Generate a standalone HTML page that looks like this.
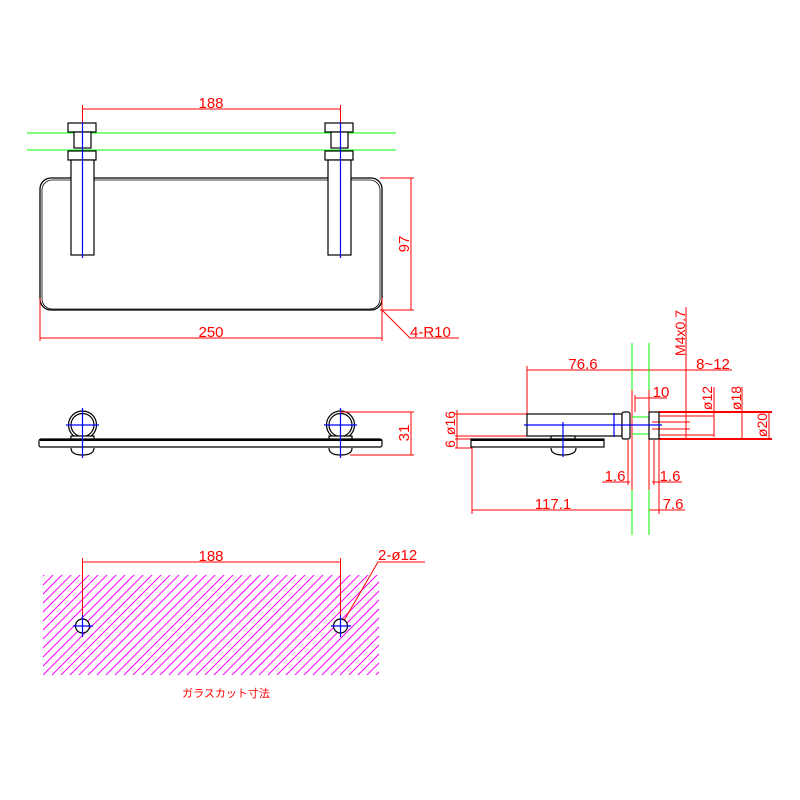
<!DOCTYPE html>
<html><head><meta charset="utf-8"><style>
html,body{margin:0;padding:0;background:#fff}
svg{display:block}
text{font-family:"Liberation Sans","Noto Sans CJK JP",sans-serif;fill:#f00}
</style></head><body>
<svg width="800" height="800" viewBox="0 0 800 800" xmlns="http://www.w3.org/2000/svg">
<defs>
<clipPath id="hc"><rect x="43" y="575" width="336" height="100"/></clipPath>
</defs>
<rect width="800" height="800" fill="#fff"/>

<!-- ===== TOP VIEW ===== -->
<g fill="none" stroke="#000" stroke-width="1.3">
<rect x="40" y="178" width="342" height="132" rx="11"/>
<rect x="42" y="180" width="338" height="129" rx="10" stroke-width="0.8"/>
</g>
<g stroke="#0f0" stroke-width="1">
<line x1="27" y1="133" x2="396" y2="133"/>
<line x1="27" y1="150" x2="396" y2="150"/>
</g>
<g fill="#fff" stroke="#000" stroke-width="1.2">
<rect x="68" y="123" width="28" height="9"/>
<rect x="74" y="132" width="17" height="16"/>
<rect x="68" y="151" width="28" height="9"/>
<rect x="71" y="160" width="23" height="95"/>
<rect x="325" y="123" width="28" height="9"/>
<rect x="331" y="132" width="17" height="16"/>
<rect x="325" y="151" width="28" height="9"/>
<rect x="328" y="160" width="23" height="95"/>
</g>
<g stroke="#00f" stroke-width="1.2">
<line x1="82.5" y1="122" x2="82.5" y2="258"/>
<line x1="340.5" y1="122" x2="340.5" y2="258"/>
</g>
<g stroke="#f00" stroke-width="1" fill="none">
<line x1="82.5" y1="105" x2="82.5" y2="122"/>
<line x1="340.5" y1="105" x2="340.5" y2="122"/>
<line x1="82.5" y1="109" x2="340.5" y2="109"/>
<line x1="380" y1="178" x2="414" y2="178"/>
<line x1="380" y1="310" x2="414" y2="310"/>
<line x1="411" y1="178" x2="411" y2="310"/>
<line x1="40" y1="298" x2="40" y2="341"/>
<line x1="382" y1="298" x2="382" y2="341"/>
<line x1="40" y1="338" x2="382" y2="338"/>
<polyline points="382,310 410,338 459,338"/>
</g>
<text x="211" y="108" font-size="15" text-anchor="middle">188</text>
<text x="211" y="337" font-size="15" text-anchor="middle">250</text>
<text x="410" y="337" font-size="15">4-R10</text>
<text transform="translate(409,244) rotate(-90)" font-size="15" text-anchor="middle">97</text>

<!-- ===== FRONT VIEW ===== -->
<g fill="none" stroke="#000" stroke-width="1.2">
<circle cx="82.5" cy="425" r="14"/><circle cx="82.5" cy="425" r="11.5"/>
<circle cx="340.5" cy="425" r="14"/><circle cx="340.5" cy="425" r="11.5"/>
<rect x="71" y="436" width="23" height="4" fill="#fff"/>
<rect x="329" y="436" width="23" height="4" fill="#fff"/>
<path d="M71,448 Q71,455 82.5,455 Q94,455 94,448"/>
<path d="M329,448 Q329,455 340.5,455 Q352,455 352,448"/>
<rect x="39" y="439" width="343" height="8" rx="2" fill="#fff"/>
<line x1="40" y1="440" x2="382" y2="440" stroke-width="2"/>
</g>
<g stroke="#00f" stroke-width="1.2">
<line x1="82.5" y1="408" x2="82.5" y2="458"/><line x1="66" y1="425" x2="99" y2="425"/>
<line x1="340.5" y1="408" x2="340.5" y2="458"/><line x1="324" y1="425" x2="357" y2="425"/>
</g>
<g stroke="#f00" stroke-width="1">
<line x1="340" y1="412" x2="414" y2="412"/>
<line x1="350" y1="455" x2="414" y2="455"/>
<line x1="411" y1="412" x2="411" y2="455"/>
</g>
<text transform="translate(409,433) rotate(-90)" font-size="15" text-anchor="middle">31</text>

<!-- ===== SIDE VIEW ===== -->
<g stroke="#f00" stroke-width="1" fill="none">
<line x1="527" y1="366" x2="527" y2="414"/>
<line x1="527" y1="370" x2="732" y2="370"/>
<line x1="686" y1="307" x2="686" y2="438"/>
<line x1="455" y1="414" x2="527" y2="414"/>
<line x1="455" y1="436" x2="527" y2="436"/>
<line x1="455" y1="439" x2="472" y2="439"/>
<line x1="455" y1="448" x2="472" y2="448"/>
<line x1="457" y1="410" x2="457" y2="448"/>
<line x1="472" y1="447" x2="472" y2="514"/>
<line x1="472" y1="510" x2="632" y2="510"/>
<line x1="632" y1="343" x2="632" y2="535" stroke="#f00"/>
<line x1="649" y1="343" x2="649" y2="535"/>
<line x1="659" y1="440" x2="659" y2="514"/>
<line x1="649" y1="510" x2="685" y2="510"/>
<line x1="628" y1="440" x2="628" y2="485"/>
<line x1="654" y1="440" x2="654" y2="485"/>
<line x1="602" y1="482" x2="630" y2="482"/>
<line x1="652" y1="482" x2="682" y2="482"/>
<line x1="635" y1="398" x2="667" y2="398"/>
<line x1="635" y1="395" x2="635" y2="412"/>
<line x1="659" y1="412" x2="772" y2="412" stroke-width="2"/>
<line x1="659" y1="439" x2="772" y2="439" stroke-width="2"/>
<line x1="659" y1="416" x2="714" y2="416"/>
<line x1="659" y1="435" x2="714" y2="435"/>
<line x1="652" y1="422" x2="690" y2="422"/>
<line x1="652" y1="429" x2="690" y2="429"/>
<line x1="714" y1="387" x2="714" y2="437"/>
<line x1="742" y1="387" x2="742" y2="439"/>
<line x1="769" y1="412" x2="769" y2="439"/>
</g>
<g stroke="#0f0" stroke-width="1">
<line x1="632" y1="343" x2="632" y2="390"/><line x1="649" y1="343" x2="649" y2="390"/>
<line x1="632" y1="490" x2="632" y2="535"/><line x1="649" y1="490" x2="649" y2="535"/>
<line x1="632" y1="417" x2="649" y2="417"/><line x1="632" y1="434" x2="649" y2="434"/>
</g>
<g fill="#fff" stroke="#000" stroke-width="1.2">
<rect x="527" y="414" width="95" height="22"/>
<rect x="622" y="412" width="8" height="27" rx="2"/>
<rect x="551" y="436" width="24" height="3"/>
<rect x="471" y="439" width="133" height="8"/>
<line x1="471" y1="440" x2="604" y2="440" stroke-width="2"/>
<path d="M551,448 Q551,455 563,455 Q576,455 576,448" fill="none"/>
<rect x="649" y="412" width="10" height="27" fill="none"/>
</g>
<g stroke="#00f" stroke-width="1.2">
<line x1="524" y1="425" x2="662" y2="425"/>
<line x1="563" y1="422" x2="563" y2="457"/>
<line x1="614" y1="413" x2="614" y2="437"/>
</g>
<text x="583" y="369" font-size="15" text-anchor="middle">76.6</text>
<text x="713" y="369" font-size="15" text-anchor="middle">8~12</text>
<text x="661" y="397" font-size="15" text-anchor="middle">10</text>
<text x="615" y="481" font-size="15" text-anchor="middle">1.6</text>
<text x="670" y="481" font-size="15" text-anchor="middle">1.6</text>
<text x="553" y="509" font-size="15" text-anchor="middle">117.1</text>
<text x="673" y="509" font-size="15" text-anchor="middle">7.6</text>
<text transform="translate(685,333) rotate(-90)" font-size="14" text-anchor="middle">M4x0.7</text>
<text transform="translate(712,398) rotate(-90)" font-size="14" text-anchor="middle">ø12</text>
<text transform="translate(741,398) rotate(-90)" font-size="14" text-anchor="middle">ø18</text>
<text transform="translate(767,425) rotate(-90)" font-size="14" text-anchor="middle">ø20</text>
<text transform="translate(455,423) rotate(-90)" font-size="14" text-anchor="middle">ø16</text>
<text transform="translate(455,444) rotate(-90)" font-size="14" text-anchor="middle">6</text>

<!-- ===== GLASS CUT ===== -->
<g clip-path="url(#hc)" stroke="#f0f" stroke-width="1">
<g id="h">
<line x1="0" y1="700" x2="150" y2="550"/><line x1="9" y1="700" x2="159" y2="550"/>
<line x1="18" y1="700" x2="168" y2="550"/><line x1="27" y1="700" x2="177" y2="550"/>
<line x1="36" y1="700" x2="186" y2="550"/><line x1="45" y1="700" x2="195" y2="550"/>
<line x1="54" y1="700" x2="204" y2="550"/><line x1="63" y1="700" x2="213" y2="550"/>
<line x1="72" y1="700" x2="222" y2="550"/><line x1="81" y1="700" x2="231" y2="550"/>
<line x1="90" y1="700" x2="240" y2="550"/><line x1="99" y1="700" x2="249" y2="550"/>
<line x1="108" y1="700" x2="258" y2="550"/><line x1="117" y1="700" x2="267" y2="550"/>
<line x1="126" y1="700" x2="276" y2="550"/><line x1="135" y1="700" x2="285" y2="550"/>
<line x1="144" y1="700" x2="294" y2="550"/><line x1="153" y1="700" x2="303" y2="550"/>
</g>
<use href="#h" x="162"/><use href="#h" x="324"/><use href="#h" x="-162"/>
</g>
<g stroke="#f00" stroke-width="1" fill="none">
<line x1="82.5" y1="558" x2="82.5" y2="626"/>
<line x1="340.5" y1="558" x2="340.5" y2="626"/>
<line x1="82.5" y1="562" x2="340.5" y2="562"/>
<polyline points="342,624 378,562 425,562"/>
</g>
<g fill="#fff" stroke="#000" stroke-width="1.2">
<circle cx="82.5" cy="626" r="7"/><circle cx="340.5" cy="626" r="7"/>
</g>
<g stroke="#00f" stroke-width="1.2">
<line x1="82.5" y1="615" x2="82.5" y2="637"/><line x1="73" y1="626" x2="93" y2="626"/>
<line x1="340.5" y1="615" x2="340.5" y2="637"/><line x1="331" y1="626" x2="351" y2="626"/>
</g>
<text x="211" y="561" font-size="15" text-anchor="middle">188</text>
<text x="378" y="560" font-size="15">2-ø12</text>
<text x="226" y="697" font-size="11" text-anchor="middle">ガラスカット寸法</text>
</svg>
</body></html>
